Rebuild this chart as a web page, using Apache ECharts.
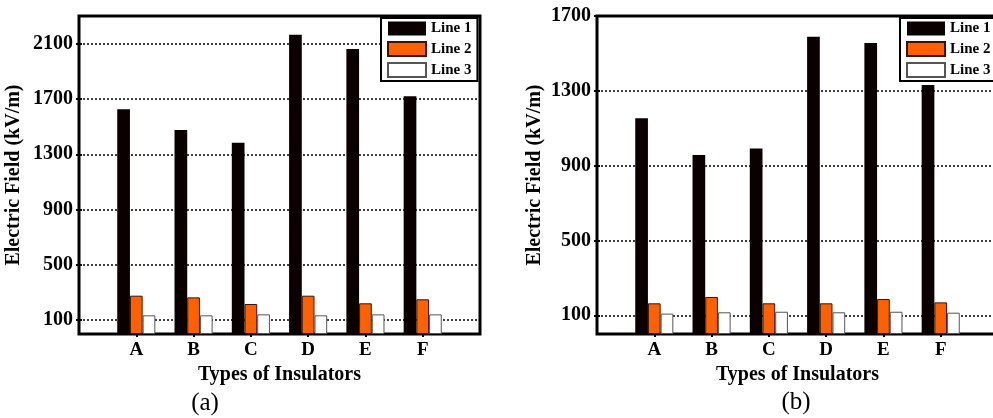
<!DOCTYPE html>
<html>
<head>
<meta charset="utf-8">
<script src="https://cdn.jsdelivr.net/npm/echarts@6/dist/echarts.min.js"></script>
<style>
html,body{margin:0;padding:0;background:#fff;}
#c{width:993px;height:418px;}
</style>
</head>
<body>
<div id="c"></div>
<script>
// ---- data ----
var categories = ['A', 'B', 'C', 'D', 'E', 'F'];
var seriesNames = ['Line 1', 'Line 2', 'Line 3'];
// chart (a)
var aLine1 = [1625, 1475, 1383, 2164, 2061, 1719];
var aLine2 = [277, 265, 217, 277, 222, 251];
var aLine3 = [135, 135, 142, 135, 142, 142];
var aYTicks = [100, 500, 900, 1300, 1700, 2100];
// chart (b)
var bLine1 = [1154, 957, 992, 1589, 1555, 1331];
var bLine2 = [164, 198, 164, 164, 187, 169];
var bLine3 = [109, 116, 119, 116, 119, 114];
var bYTicks = [100, 500, 900, 1300, 1700];
var panelLabels = ['(a)', '(b)'];
var xAxisName = 'Types of Insulators';
var yAxisName = 'Electric Field (kV/m)';

// ---- helpers ----
var FONT = 'Liberation Serif';
var catPos = categories.map(function (c, i) { return i + 1; });
function pts(vals) { return vals.map(function (v, i) { return [catPos[i], v]; }); }

var colors = ['#0a0000', '#ff6000', '#ffffff'];
var borders = [
  { borderColor: '#0a0000', borderWidth: 0 },
  { borderColor: '#3a1400', borderWidth: 1 },
  { borderColor: '#555555', borderWidth: 1 }
];

function gridAxes(gi, ymax, yticks, nameGap) {
  var xb = {
    type: 'value', gridIndex: gi, min: 0, max: catPos.length + 1, interval: 1,
    position: 'bottom',
    axisLine: { show: false },
    axisTick: { show: false },
    splitLine: { show: false },
    axisLabel: {
      customValues: catPos, margin: 7, color: '#000',
      fontFamily: FONT, fontWeight: 'bold', fontSize: 19,
      formatter: function (v) { return categories[v - 1] || ''; }
    },
    name: xAxisName, nameLocation: 'middle', nameGap: 26,
    nameTextStyle: { color: '#000', fontFamily: FONT, fontWeight: 'bold', fontSize: 20 }
  };
  var xt = {
    type: 'value', gridIndex: gi, min: 0, max: catPos.length + 1, interval: 1,
    position: 'top',
    axisLine: { show: false },
    axisTick: { show: true, inside: true, length: 3, customValues: catPos, lineStyle: { color: '#000', width: 2 } },
    splitLine: { show: false },
    axisLabel: { show: false }
  };
  var yl = {
    type: 'value', gridIndex: gi, min: 0, max: ymax, position: 'left',
    axisLine: { show: false },
    axisTick: { show: true, inside: true, length: 3, customValues: yticks, lineStyle: { color: '#000', width: 2 } },
    splitLine: { show: true, lineStyle: { color: '#000', width: 1.5, type: [2, 2] } },
    axisLabel: {
      customValues: yticks, margin: 6, color: '#000',
      fontFamily: FONT, fontWeight: 'bold', fontSize: 20,
      formatter: function (v) { return String(v); }
    },
    name: yAxisName, nameLocation: 'middle', nameGap: nameGap,
    nameTextStyle: { color: '#000', fontFamily: FONT, fontWeight: 'bold', fontSize: 20 }
  };
  var yr = {
    type: 'value', gridIndex: gi, min: 0, max: ymax, position: 'right',
    axisLine: { show: false },
    axisTick: { show: true, inside: true, length: 3, customValues: yticks, lineStyle: { color: '#000', width: 2 } },
    splitLine: { show: false },
    axisLabel: { show: false }
  };
  return { x: [xb, xt], y: [yl, yr] };
}

var A = gridAxes(0, 2300, aYTicks, 55);
var B = gridAxes(1, 1700, bYTicks, 52);

function makeSeries(xi, yi, sets) {
  return sets.map(function (vals, k) {
    return {
      type: 'bar', name: seriesNames[k], xAxisIndex: xi, yAxisIndex: yi,
      barWidth: 12.7, barGap: '0%',
      itemStyle: Object.assign({ color: colors[k] }, borders[k]),
      data: pts(vals)
    };
  });
}

function legend(left) {
  return {
    left: left, top: 18, orient: 'vertical',
    itemWidth: 38, itemHeight: 14, itemGap: 5,
    backgroundColor: '#fff', borderColor: '#000', borderWidth: 2,
    padding: [3, 6, 3, 6],
    icon: 'rect',
    textStyle: { color: '#000', fontFamily: FONT, fontWeight: 'bold', fontSize: 15 },
    data: seriesNames,
    selectedMode: false
  };
}

var chart = echarts.init(document.getElementById('c'), null, { renderer: 'canvas' });
chart.setOption({
  animation: false,
  backgroundColor: '#fff',
  grid: [
    { left: 79, top: 16, width: 401, height: 318, show: true, borderColor: '#000', borderWidth: 3, backgroundColor: '#fff', outerBoundsMode: 'none' },
    { left: 597, top: 16, width: 401, height: 318, show: true, borderColor: '#000', borderWidth: 3, backgroundColor: '#fff', outerBoundsMode: 'none' }
  ],
  xAxis: [A.x[0], A.x[1], B.x[0], B.x[1]],
  yAxis: [A.y[0], A.y[1], B.y[0], B.y[1]],
  legend: [legend(381), legend(900)],
  series: makeSeries(0, 0, [aLine1, aLine2, aLine3]).concat(makeSeries(2, 2, [bLine1, bLine2, bLine3])),
  graphic: [
    { type: 'text', x: 205, y: 403, style: { text: panelLabels[0], fill: '#000', font: '25px "Liberation Serif"', textAlign: 'center', textVerticalAlign: 'middle' } },
    { type: 'text', x: 796, y: 402, style: { text: panelLabels[1], fill: '#000', font: '25px "Liberation Serif"', textAlign: 'center', textVerticalAlign: 'middle' } }
  ]
});
</script>
</body>
</html>
